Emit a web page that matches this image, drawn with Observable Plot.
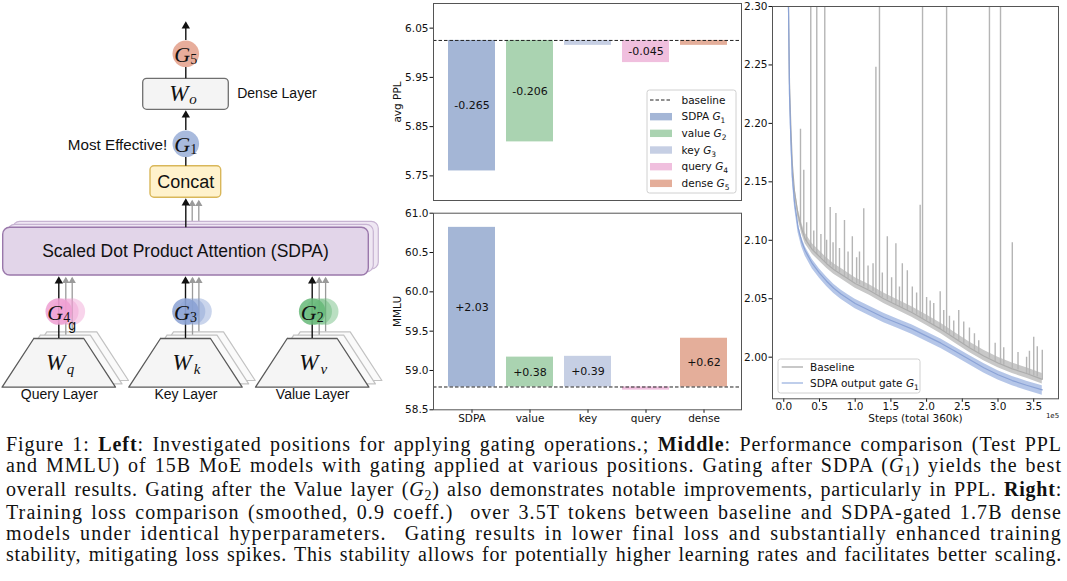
<!DOCTYPE html>
<html><head><meta charset="utf-8">
<script src="https://cdn.jsdelivr.net/npm/d3@7"></script>
<script src="https://cdn.jsdelivr.net/npm/@observablehq/plot@0.6"></script>
<style>
body{margin:0;background:#fff;}
#fig{position:relative;width:1067px;height:581px;overflow:hidden;background:#fff;}
.panel{position:absolute;}
.panel svg{overflow:visible;}
#caption{position:absolute;left:6px;top:434px;width:1056px;font-family:"Liberation Serif",serif;font-size:20px;line-height:20.8px;color:#111;}
#caption div{text-align:left;white-space:nowrap;}
#caption sub{font-size:0.7em;vertical-align:baseline;position:relative;top:0.3em;}
</style></head><body>
<div id="fig">
  <div class="panel" id="diagram" style="left:0;top:0"></div>
  <div class="panel" id="ppl" style="left:380px;top:0"></div>
  <div class="panel" id="mmlu" style="left:380px;top:205px"></div>
  <div class="panel" id="loss" style="left:742px;top:0"></div>
  <div id="caption">
    <div><span>Figure 1: <b>Left</b>: Investigated positions for applying gating operations.; <b>Middle</b>: Performance comparison (Test PPL</span></div>
    <div><span>and MMLU) of 15B MoE models with gating applied at various positions. Gating after SDPA (<i>G</i><sub>1</sub>) yields the best</span></div>
    <div><span>overall results. Gating after the Value layer (<i>G</i><sub>2</sub>) also demonstrates notable improvements, particularly in PPL. <b>Right</b>:</span></div>
    <div><span>Training loss comparison (smoothed, 0.9 coeff.)&nbsp; over 3.5T tokens between baseline and SDPA-gated 1.7B dense</span></div>
    <div><span>models under identical hyperparameters.&nbsp; Gating results in lower final loss and substantially enhanced training</span></div>
    <div><span>stability, mitigating loss spikes. This stability allows for potentially higher learning rates and facilitates better scaling.</span></div>
  </div>
</div>
<script>
// ================= DATA =================
const positions = ["SDPA","value","key","query","dense"];
const gateIndex = ["1","2","3","4","5"];
const pplBaseline = 6.025;
const pplDelta = [-0.265,-0.206,-0.010,-0.045,-0.010];
const pplText = ["-0.265","-0.206","","-0.045",""];
const mmluBaseline = 58.79;
const mmluDelta = [2.03,0.38,0.39,-0.04,0.62];
const mmluText = ["+2.03","+0.38","+0.39","","+0.62"];
const pplTicks = [5.75,5.85,5.95,6.05];
const mmluTicks = [58.5,59.0,59.5,60.0,60.5,61.0];
const stepTicks = [0,0.5,1,1.5,2,2.5,3,3.5];
const lossTicks = [2.00,2.05,2.10,2.15,2.20,2.25,2.30];

// training loss (steps in units of 1e5)
const steps        = [0.055,0.066,0.08,0.10,0.12,0.15,0.20,0.25,0.30,0.40,0.50,0.60,0.70,0.80,0.90,1.00,1.20,1.40,1.60,1.80,2.00,2.20,2.40,2.60,2.80,3.00,3.20,3.40,3.62];
const lossBaseline = [2.36,2.30,2.235,2.195,2.165,2.142,2.122,2.110,2.101,2.092,2.086,2.080,2.075,2.071,2.067,2.063,2.057,2.050,2.044,2.038,2.031,2.024,2.016,2.008,2.001,1.995,1.990,1.986,1.981];
const lossGated    = [2.35,2.30,2.225,2.185,2.155,2.133,2.111,2.099,2.091,2.080,2.072,2.065,2.059,2.054,2.050,2.046,2.040,2.034,2.029,2.024,2.018,2.012,2.005,1.998,1.991,1.985,1.980,1.976,1.972];
// baseline loss spikes
const spikeSteps = [0.234,0.28,0.32,0.378,0.42,0.462,0.52,0.574,0.60,0.65,0.69,0.73,0.78,0.85,0.90,0.96,1.02,1.06,1.12,1.18,1.25,1.29,1.34,1.38,1.45,1.51,1.57,1.62,1.66,1.73,1.80,1.86,1.91,1.943,2.00,2.05,2.10,2.19,2.24,2.28,2.32,2.38,2.45,2.52,2.60,2.67,2.73,2.88,2.96,3.035,3.08,3.2,3.28,3.40,3.44,3.5,3.55,3.62];
const spikeBase  = [2.113,2.104,2.099,2.094,2.091,2.088,2.085,2.081,2.080,2.078,2.076,2.074,2.072,2.069,2.067,2.065,2.063,2.062,2.060,2.058,2.056,2.054,2.052,2.051,2.049,2.047,2.045,2.043,2.042,2.040,2.038,2.036,2.034,2.033,2.031,2.029,2.027,2.024,2.022,2.021,2.019,2.017,2.014,2.011,2.008,2.006,2.003,1.999,1.996,1.994,1.993,1.990,1.989,1.986,1.985,1.984,1.983,1.981];
const spikeTop   = [2.195,2.160,2.115,2.400,2.108,2.400,2.105,2.400,2.100,2.128,2.098,2.123,2.093,2.117,2.090,2.103,2.085,2.090,2.127,2.078,2.080,2.248,2.400,2.072,2.103,2.068,2.097,2.060,2.080,2.074,2.060,2.055,2.130,2.400,2.051,2.048,2.046,2.056,2.040,2.400,2.035,2.031,2.040,2.030,2.025,2.020,2.014,2.400,2.012,2.400,2.008,2.098,2.004,2.000,2.005,2.017,2.009,2.006];
const lossSeries = ["Baseline","SDPA output gate"];

// ================= STYLES =================
const barColors = ["#a4b6d6","#aad3b1","#c6cfe4","#f0bfde","#e4ae9a"];
const axisFont = "DejaVu Sans";
const sansFont = "Liberation Sans";
const mathFont = "Liberation Serif";

// ================= MIDDLE TOP: avg PPL =================
const pplRows = positions.map((p,i)=>({pos:p, y1:pplBaseline, y2:pplBaseline+pplDelta[i], label:pplText[i]}));
const pplPlot = Plot.plot({
  width:365, height:205, marginLeft:53, marginRight:4, marginTop:3, marginBottom:5,
  style:{fontFamily:axisFont, fontSize:"10.5px", color:"#111", background:"none"},
  x:{type:"band", domain:positions, paddingInner:0.19, paddingOuter:0.236, axis:null},
  y:{domain:[5.70,6.10], ticks:pplTicks, tickFormat:d=>d.toFixed(2), tickSize:3.5, tickPadding:1.5, label:null},
  color:{domain:positions, range:barColors},
  marks:[
    Plot.barY(pplRows,{x:"pos", y1:"y1", y2:"y2", fill:"pos", inset:0}),
    Plot.ruleY([pplBaseline],{stroke:"#222", strokeDasharray:"3.5,2", strokeWidth:1}),
    Plot.text(pplRows.filter(d=>d.label),{x:"pos", y:d=>(d.y1+d.y2)/2, text:"label", fill:"#111", fontSize:11}),
    Plot.text(["avg PPL"],{frameAnchor:"left", dx:-36, rotate:-90, textAnchor:"middle", fontSize:10.5}),
    Plot.frame({stroke:"#555"})
  ]
});
document.getElementById("ppl").append(pplPlot);

// legend (top middle)
(function(){
  const svg = d3.select(pplPlot);
  const g = svg.append("g").attr("font-family",axisFont).attr("font-size",10.5).attr("fill","#111").attr("text-anchor","start");
  g.append("rect").attr("x",267).attr("y",90).attr("width",89).attr("height",103).attr("rx",2.5)
    .attr("fill","#fff").attr("fill-opacity",0.85).attr("stroke","#d0d0d0");
  const y0 = 100, dy = 16.67;
  g.append("line").attr("x1",270).attr("x2",292).attr("y1",y0).attr("y2",y0)
    .attr("stroke","#222").attr("stroke-dasharray","3.5,2");
  g.append("text").attr("x",301.5).attr("y",y0).attr("dy","0.35em").text("baseline");
  positions.forEach((p,i)=>{
    const y = y0 + dy*(i+1);
    g.append("rect").attr("x",270).attr("y",y-3.7).attr("width",22).attr("height",7.4).attr("fill",barColors[i]);
    const t = g.append("text").attr("x",301.5).attr("y",y).attr("dy","0.35em");
    t.append("tspan").text(p+" ");
    t.append("tspan").attr("font-style","italic").text("G");
    t.append("tspan").attr("font-size",7.5).attr("dy",3).text(gateIndex[i]);
  });
})();

// ================= MIDDLE BOTTOM: MMLU =================
const mmluRows = positions.map((p,i)=>({pos:p, y1:mmluBaseline, y2:mmluBaseline+mmluDelta[i], label:mmluText[i]}));
const mmluPlot = Plot.plot({
  width:365, height:225, marginLeft:53, marginRight:4, marginTop:7.7, marginBottom:20.7,
  style:{fontFamily:axisFont, fontSize:"10.5px", color:"#111", background:"none"},
  x:{type:"band", domain:positions, paddingInner:0.19, paddingOuter:0.236, tickSize:3.5, tickPadding:1.5, label:null},
  y:{domain:[58.5,61.0], ticks:mmluTicks, tickFormat:d=>d.toFixed(1), tickSize:3.5, tickPadding:1.5, label:null},
  color:{domain:positions, range:barColors},
  marks:[
    Plot.barY(mmluRows,{x:"pos", y1:"y1", y2:"y2", fill:"pos", inset:0}),
    Plot.ruleY([mmluBaseline],{stroke:"#222", strokeDasharray:"3.5,2", strokeWidth:1}),
    Plot.text(mmluRows.filter(d=>d.label),{x:"pos", y:d=>(d.y1+d.y2)/2, text:"label", fill:"#111", fontSize:11}),
    Plot.text(["MMLU"],{frameAnchor:"left", dx:-36, rotate:-90, textAnchor:"middle", fontSize:10.5}),
    Plot.frame({stroke:"#555"})
  ]
});
document.getElementById("mmlu").append(mmluPlot);

// ================= RIGHT: training loss =================
const baseRows = steps.map((s,i)=>({s, v:lossBaseline[i]}));
const gateRows = steps.map((s,i)=>({s, v:lossGated[i]}));
const spikeRows = spikeSteps.map((s,i)=>({s, b:spikeBase[i], t:spikeTop[i]}));
const lossPlot = Plot.plot({
  width:325, height:430, marginLeft:30, marginRight:9, marginTop:6, marginBottom:31.7,
  style:{fontFamily:axisFont, fontSize:"10.5px", color:"#111", background:"none"},
  x:{domain:[-0.158,3.847], ticks:stepTicks, tickFormat:d=>d.toFixed(1), tickSize:3.5, tickPadding:0, label:null},
  y:{domain:[1.9644,2.30], ticks:lossTicks, tickFormat:d=>d.toFixed(2), tickSize:3.5, tickPadding:1.5, label:null},
  marks:[
    Plot.areaY(baseRows,{x:"s", y1:d=>d.v-0.004, y2:d=>d.v+0.005, fill:"#c8c8c8", clip:true}),
    Plot.ruleX(spikeRows,{x:"s", y1:"b", y2:"t", stroke:"#b5b5b5", strokeWidth:1.4, clip:true}),
    Plot.line(baseRows,{x:"s", y:"v", stroke:"#acacac", strokeWidth:1.2, clip:true}),
    Plot.areaY(gateRows,{x:"s", y1:d=>d.v-0.0045, y2:d=>d.v+0.0035, fill:"#adc0e6", fillOpacity:0.9, clip:true}),
    Plot.line(gateRows,{x:"s", y:"v", stroke:"#8ba3d6", strokeWidth:1.2, clip:true}),
    Plot.text(["Steps (total 360k)"],{frameAnchor:"bottom", dy:23, textAnchor:"middle", fontSize:10.5}),
    Plot.text(["1e5"],{frameAnchor:"bottom-right", dx:-6, dy:19.5, textAnchor:"middle", fontSize:7}),
    Plot.frame({stroke:"#555"})
  ]
});
document.getElementById("loss").append(lossPlot);

(function(){
  const svg = d3.select(lossPlot);
  const g = svg.append("g").attr("font-family",axisFont).attr("font-size",10.5).attr("fill","#111").attr("text-anchor","start");
  g.append("rect").attr("x",36).attr("y",359).attr("width",142).attr("height",34).attr("rx",2.5)
    .attr("fill","#fff").attr("fill-opacity",0.85).attr("stroke","#d0d0d0");
  const cols = ["#aaaaaa","#9db3e0"];
  lossSeries.forEach((name,i)=>{
    const y = 367 + 16*i;
    g.append("line").attr("x1",39.7).attr("x2",61).attr("y1",y).attr("y2",y).attr("stroke",cols[i]).attr("stroke-width",1.3);
    const t = g.append("text").attr("x",68).attr("y",y).attr("dy","0.35em");
    t.append("tspan").text(name + (i===1?" ":""));
    if(i===1){
      t.append("tspan").attr("font-style","italic").text("G");
      t.append("tspan").attr("font-size",7.5).attr("dy",3).text("1");
    }
  });
})();

// ================= LEFT: diagram =================
const colX = [58.3,185,311.7];
const colGate = ["4","3","2"];
const colW = ["q","k","v"];
const colLabel = ["Query Layer","Key Layer","Value Layer"];
const colFill = ["#ef9fd2","#8aa1d4","#66b978"];
const shadowOff = [[13,-6.7],[6.5,-3.3]];

const trapezoids = [];
colX.forEach((cx,c)=>{
  [[13,-6.7,"s2"],[6.5,-3.3,"s1"],[0,0,"m"]].forEach(([ox,oy,k])=>{
    const id = c+"-"+k;
    [[cx-25,338],[cx+25,338],[cx+56.7,386.7],[cx-56.7,386.7],[cx-25,338]].forEach(([x,y])=>
      trapezoids.push({id, kind:k, x:x+ox, y:y+oy}));
  });
});
const sdpaBox = {x1:2.7,x2:368.3,y1:227.3,y2:275};
const shadowBoxes = [[10,-6],[5,-3]].map(([ox,oy])=>({x1:sdpaBox.x1+ox,x2:sdpaBox.x2+ox,y1:sdpaBox.y1+oy,y2:sdpaBox.y2+oy}));

const blackShafts = [
  {x:185.3,y1:40,y2:23},
  {x:185.3,y1:66.7,y2:78.3},
  {x:185.3,y1:130,y2:112},
  {x:185.3,y1:156.7,y2:165.7},
  {x:185.3,y1:227.3,y2:200},
  ...colX.map(cx=>({x:cx,y1:338,y2:278}))
];
const blackHeads = [{x:185.3,y:25.5},{x:185.3,y:114.5},{x:185.3,y:202.5},...colX.map(cx=>({x:cx,y:280.5}))];
const greyShafts = [
  {x:191.7,y1:224.3,y2:201},{x:198.3,y1:221.3,y2:201},
  ...colX.flatMap(cx=>[{x:cx+7,y1:334.7,y2:278},{x:cx+13.4,y1:331.3,y2:278}])
];
const greyHeads = [{x:191.7,y:203.5},{x:198.3,y:203.5},...colX.flatMap(cx=>[{x:cx+7,y:280.5},{x:cx+13.4,y:280.5}])];

const gateDots = [];
colX.forEach((cx,c)=>{
  shadowOff.forEach(([ox])=>gateDots.push({x:cx+ox,y:311,fill:colFill[c],op:0.45}));
  gateDots.push({x:cx,y:311,fill:colFill[c],op:0.85});
});
gateDots.push({x:185.3,y:53.3,fill:"#e6a996",op:0.95});
gateDots.push({x:185.3,y:143.3,fill:"#a3b6db",op:0.95});

const mathG = [
  {x:181.7,y:54,t:"G"},{x:181.7,y:144,t:"G"},
  ...colX.map(cx=>({x:cx-3.6,y:312,t:"G"}))
];
const mathSub = [
  {x:193.3,y:59,t:"5"},{x:193.3,y:149,t:"1"},
  ...colX.map((cx,c)=>({x:cx+8,y:317,t:colGate[c]}))
];
const mathW = [{x:178.3,y:93,t:"W"},...colX.map(cx=>({x:cx-3.3,y:362,t:"W"}))];
const mathWsub = [{x:192.5,y:99,t:"o"},...colX.map((cx,c)=>({x:cx+11.7,y:369,t:colW[c]}))];

const diagram = Plot.plot({
  width:390, height:430, margin:0,
  x:{domain:[0,390], range:[0,390], axis:null},
  y:{domain:[0,430], range:[0,430], axis:null},
  style:{background:"none", overflow:"visible"},
  marks:[
    Plot.line(trapezoids.filter(d=>d.kind!=="m"),{x:"x",y:"y",z:"id",stroke:"#c2c2c2",fill:"#fafafa",strokeWidth:1.2,curve:"linear"}),
    Plot.line(trapezoids.filter(d=>d.kind==="m"),{x:"x",y:"y",z:"id",stroke:"#5a5a5a",fill:"#f5f5f5",strokeWidth:1.3,curve:"linear"}),
    Plot.ruleX(greyShafts,{x:"x",y1:"y1",y2:"y2",stroke:"#9a9a9a",strokeWidth:1.3}),
    Plot.dot(greyHeads,{x:"x",y:"y",symbol:"triangle2",r:3.5,fill:"#9a9a9a",stroke:null}),
    Plot.rect(shadowBoxes,{x1:"x1",x2:"x2",y1:"y1",y2:"y2",fill:"#efe7f3",stroke:"#c7b4d2",strokeWidth:1.2,rx:7}),
    Plot.rect([sdpaBox],{x1:"x1",x2:"x2",y1:"y1",y2:"y2",fill:"#e2d5e9",stroke:"#9a78ab",strokeWidth:1.4,rx:7}),
    Plot.rect([{x1:142.7,x2:228.3,y1:78.3,y2:109.3}],{x1:"x1",x2:"x2",y1:"y1",y2:"y2",fill:"#f4f4f4",stroke:"#6f6f6f",strokeWidth:1.3,rx:4}),
    Plot.rect([{x1:150,x2:220.7,y1:165.7,y2:197.3}],{x1:"x1",x2:"x2",y1:"y1",y2:"y2",fill:"#fff2cc",stroke:"#d9b75a",strokeWidth:1.4,rx:4}),
    Plot.ruleX(blackShafts,{x:"x",y1:"y1",y2:"y2",stroke:"#111",strokeWidth:1.4}),
    Plot.dot(blackHeads,{x:"x",y:"y",symbol:"triangle2",r:4,fill:"#111",stroke:null}),
    Plot.dot(gateDots,{x:"x",y:"y",r:13.3,fill:"fill",fillOpacity:"op",stroke:null}),
    Plot.text(mathG,{x:"x",y:"y",text:"t",fontFamily:mathFont,fontStyle:"italic",fontSize:22,fill:"#111"}),
    Plot.text(mathSub,{x:"x",y:"y",text:"t",fontFamily:mathFont,fontSize:14,fill:"#111"}),
    Plot.text(mathW,{x:"x",y:"y",text:"t",fontFamily:mathFont,fontStyle:"italic",fontSize:23,fill:"#111"}),
    Plot.text(mathWsub,{x:"x",y:"y",text:"t",fontFamily:mathFont,fontStyle:"italic",fontSize:15,fill:"#111"}),
    Plot.text([{x:185.3,y:181.5,t:"Concat"}],{x:"x",y:"y",text:"t",fontFamily:sansFont,fontSize:18,fill:"#111"}),
    Plot.text([{x:185,y:251,t:"Scaled Dot Product Attention (SDPA)"}],{x:"x",y:"y",text:"t",fontFamily:sansFont,fontSize:17.5,fill:"#111"}),
    Plot.text([{x:236.7,y:93.3,t:"Dense Layer"}],{x:"x",y:"y",text:"t",fontFamily:sansFont,fontSize:14,textAnchor:"start",fill:"#111"}),
    Plot.text([{x:166.7,y:145,t:"Most Effective!"}],{x:"x",y:"y",text:"t",fontFamily:sansFont,fontSize:15.2,textAnchor:"end",fill:"#111"}),
    Plot.text(colX.map((cx,c)=>({x:cx+0.5,y:394.5,t:colLabel[c]})),{x:"x",y:"y",text:"t",fontFamily:sansFont,fontSize:14,fill:"#111"}),
    Plot.text([{x:71.7,y:325,t:"g"}],{x:"x",y:"y",text:"t",fontFamily:sansFont,fontSize:14,fill:"#111"})
  ]
});
document.getElementById("diagram").append(diagram);

// caption: measure natural width (left-aligned), spread letters, then justify the remainder
document.querySelectorAll("#caption div").forEach(div=>{
  const span = div.querySelector("span");
  const natural = span.getBoundingClientRect().width;
  const n = span.textContent.length;
  const ls = Math.max(0, (1052 - natural) * 0.8 / n);
  div.style.letterSpacing = ls.toFixed(3) + "px";
  div.style.textAlign = "justify";
  div.style.textAlignLast = "justify";
});
</script>
</body></html>
